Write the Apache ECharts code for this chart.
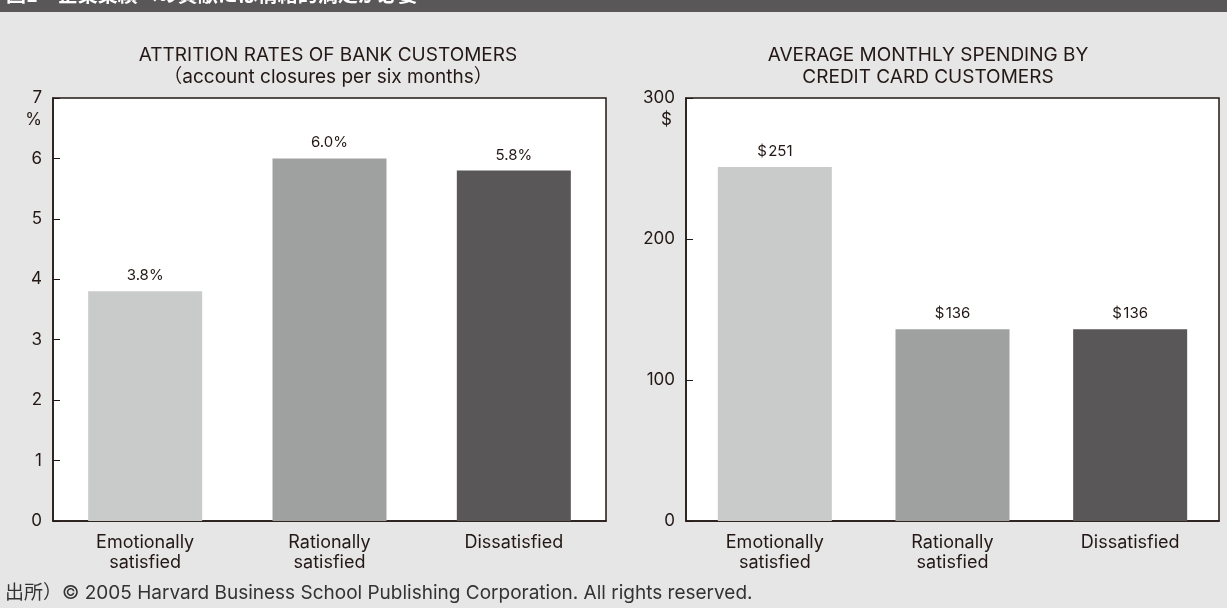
<!DOCTYPE html>
<html>
<head>
<meta charset="utf-8">
<script src="https://cdn.jsdelivr.net/npm/echarts@6/dist/echarts.min.js"></script>
<style>
  html, body { margin: 0; padding: 0; background: #e6e6e6; }
  #chart-container { width: 1227px; height: 608px; }
</style>
</head>
<body>
<div id="chart-container"></div>
<script>
var dom = document.getElementById("chart-container");
var myChart = echarts.init(dom, null, { renderer: "canvas" });

const categories = ["Emotionally\nsatisfied", "Rationally\nsatisfied", "Dissatisfied"];
const attritionRates = [3.8, 6.0, 5.8];
const monthlySpending = [251, 136, 136];
const barColors = ["#c9caca", "#9fa0a0", "#595757"];

const FONT = "Inter, 'Liberation Sans', Arial, 'Noto Sans CJK JP', sans-serif";
const INK = "#231815";

function coloredData(values) {
  return values.map(function (v, i) {
    return { value: v, itemStyle: { color: barColors[i] } };
  });
}

function xAxisFor(gridIndex) {
  return {
    type: "category",
    gridIndex: gridIndex,
    data: categories,
    axisLine: { lineStyle: { color: INK, width: 1.5 } },
    axisTick: { inside: true, length: 7, lineStyle: { color: INK, width: 1 } },
    axisLabel: {
      color: INK,
      fontFamily: FONT,
      fontSize: 18,
      lineHeight: 20,
      margin: 12,
    },
  };
}

function yAxisFor(gridIndex, max, interval, unit, unitPad) {
  return {
    type: "value",
    gridIndex: gridIndex,
    min: 0,
    max: max,
    interval: interval,
    name: unit,
    nameLocation: "end",
    nameGap: -30,
    nameTextStyle: {
      color: INK,
      fontFamily: FONT,
      fontSize: 17,
      align: "right",
      padding: [0, unitPad, 0, 0],
    },
    axisLine: { show: true, lineStyle: { color: INK, width: 1.5 } },
    axisTick: { show: true, inside: true, length: 7, lineStyle: { color: INK, width: 1 } },
    axisLabel: { color: INK, fontFamily: FONT, fontSize: 17, margin: 11 },
    splitLine: { show: false },
  };
}

var option = {
  backgroundColor: "#e6e6e6",
  animation: false,
  title: [
    {
      text: "ATTRITION RATES OF BANK CUSTOMERS\n（account closures per six months）",
      left: 323,
      top: 39,
      textAlign: "center",
      textStyle: { color: INK, fontFamily: FONT, fontSize: 19, fontWeight: "normal", lineHeight: 22 },
    },
    {
      text: "AVERAGE MONTHLY SPENDING BY\nCREDIT CARD CUSTOMERS",
      left: 923,
      top: 39,
      textAlign: "center",
      textStyle: { color: INK, fontFamily: FONT, fontSize: 19, fontWeight: "normal", lineHeight: 22 },
    },
  ],
  grid: [
    { left: 53, top: 98, width: 553, height: 423, show: true, backgroundColor: "#ffffff", borderColor: INK, borderWidth: 1.5 },
    { left: 686, top: 98, width: 533, height: 423, show: true, backgroundColor: "#ffffff", borderColor: INK, borderWidth: 1.5 },
  ],
  xAxis: [xAxisFor(0), xAxisFor(1)],
  yAxis: [yAxisFor(0, 7, 1, "%", 11), yAxisFor(1, 300, 100, "$", 14)],
  series: [
    {
      type: "bar",
      xAxisIndex: 0,
      yAxisIndex: 0,
      barWidth: 114,
      data: coloredData(attritionRates),
      label: {
        show: true,
        position: "top",
        distance: 8,
        color: INK,
        fontFamily: FONT,
        fontSize: 15,
        formatter: function (p) {
          return p.value.toFixed(1) + "%";
        },
      },
    },
    {
      type: "bar",
      xAxisIndex: 1,
      yAxisIndex: 1,
      barWidth: 114,
      data: coloredData(monthlySpending),
      label: {
        show: true,
        position: "top",
        distance: 8,
        color: INK,
        fontFamily: FONT,
        fontSize: 15,
        formatter: function (p) {
          return "$\u200a" + p.value;
        },
      },
    },
  ],
  graphic: [
    {
      type: "rect",
      left: 0,
      top: 0,
      shape: { width: 1227, height: 12 },
      style: { fill: "#595757" },
    },
    {
      type: "text",
      left: 6,
      top: -16,
      style: {
        text: "図1　企業業績への貢献には情緒的満足が必要",
        fill: "#ffffff",
        font: "bold 20px 'Noto Sans CJK JP', sans-serif",
      },
    },
    {
      type: "text",
      left: 5,
      top: 584,
      style: {
        text: "出所）© 2005 Harvard Business School Publishing Corporation. All rights reserved.",
        fill: "#333333",
        font: "19px Inter, 'Liberation Sans', Arial, 'Noto Sans CJK JP', sans-serif",
      },
    },
  ],
};

myChart.setOption(option);
window.addEventListener("resize", myChart.resize);
</script>
</body>
</html>
